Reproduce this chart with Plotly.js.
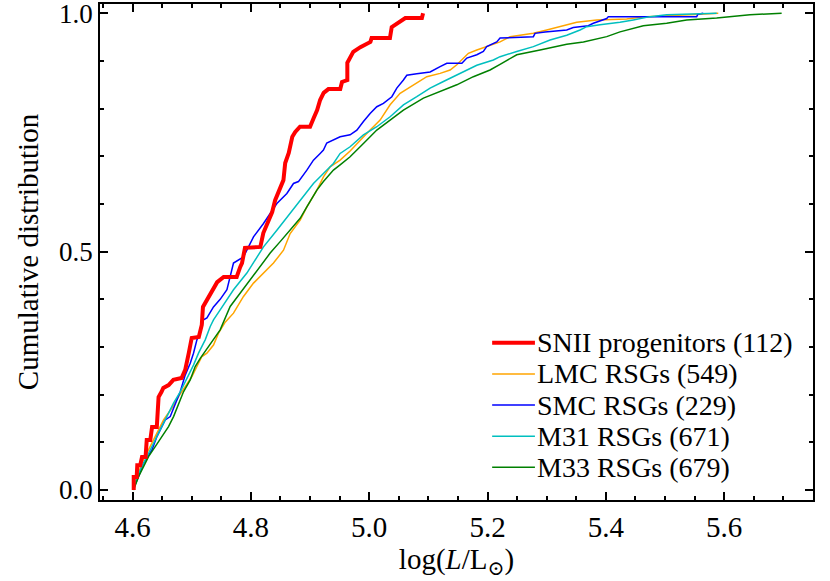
<!DOCTYPE html>
<html>
<head>
<meta charset="utf-8">
<script src="https://cdn.plot.ly/plotly-3.0.1.min.js"></script>
<style>html,body{margin:0;padding:0;background:#fff;}#chart{width:830px;height:581px;}</style>
</head>
<body>
<div id="chart"></div>
<script>
// ---- data ----
const seriesNames = ["SNII progenitors (112)", "LMC RSGs (549)", "SMC RSGs (229)", "M31 RSGs (671)", "M33 RSGs (679)"];

const snX = [4.602,4.602,4.607,4.608,4.613,4.616,4.622,4.624,4.630,4.633,4.641,4.644,4.649,4.652,4.661,4.669,4.683,4.689,4.695,4.700,4.712,4.717,4.719,4.726,4.734,4.743,4.754,4.776,4.782,4.785,4.790,4.816,4.821,4.830,4.836,4.841,4.847,4.855,4.858,4.864,4.870,4.875,4.883,4.900,4.906,4.912,4.917,4.923,4.931,4.951,4.954,4.963,4.963,4.968,4.973,4.985,5.002,5.004,5.035,5.038,5.049,5.055,5.061,5.089,5.091];
const snY = [0.000,0.027,0.027,0.052,0.052,0.069,0.069,0.105,0.105,0.132,0.132,0.195,0.206,0.214,0.220,0.231,0.235,0.252,0.287,0.319,0.321,0.346,0.384,0.399,0.420,0.436,0.447,0.447,0.468,0.476,0.508,0.510,0.539,0.566,0.583,0.608,0.625,0.650,0.686,0.707,0.741,0.751,0.762,0.762,0.780,0.797,0.818,0.833,0.841,0.841,0.856,0.860,0.896,0.906,0.919,0.929,0.940,0.948,0.948,0.971,0.980,0.984,0.990,0.990,1.000];

const lmcX = [4.6012,4.6046,4.6159,4.6299,4.6412,4.6524,4.6666,4.6777,4.6890,4.7003,4.7088,4.7172,4.7257,4.7368,4.7453,4.7566,4.7706,4.7875,4.8044,4.8213,4.8382,4.8551,4.8664,4.8833,4.8946,4.9115,4.9226,4.9339,4.9508,4.9677,4.9846,5.0015,5.0184,5.0353,5.0522,5.0747,5.0973,5.1198,5.1367,5.1480,5.1591,5.1676,5.1818,5.1985,5.2211,5.2380,5.2774,5.3000,5.3225,5.3507,5.3845,5.4351,5.4689,5.5139,5.5590,5.5899];
const lmcY = [0.000,0.015,0.057,0.091,0.120,0.147,0.172,0.196,0.217,0.238,0.259,0.280,0.287,0.304,0.329,0.352,0.371,0.406,0.434,0.455,0.476,0.503,0.538,0.566,0.594,0.629,0.657,0.678,0.692,0.711,0.734,0.755,0.776,0.808,0.832,0.850,0.867,0.874,0.881,0.892,0.906,0.916,0.923,0.930,0.940,0.951,0.958,0.965,0.972,0.981,0.986,0.988,0.993,0.995,0.998,1.000];

const smcX = [4.6017,4.6017,4.6101,4.6186,4.6328,4.6412,4.6468,4.6552,4.6637,4.6721,4.6806,4.6890,4.6975,4.7030,4.7088,4.7144,4.7199,4.7257,4.7368,4.7481,4.7595,4.7706,4.7875,4.8044,4.8213,4.8439,4.8608,4.8720,4.8804,4.8946,4.9057,4.9171,4.9226,4.9282,4.9395,4.9508,4.9677,4.9791,4.9902,5.0015,5.0128,5.0240,5.0382,5.0466,5.0578,5.0635,5.0804,5.1029,5.1198,5.1311,5.1566,5.1649,5.1818,5.1929,5.1985,5.2155,5.2211,5.2774,5.2802,5.2971,5.3338,5.3449,5.3703,5.3787,5.4014,5.4041,5.5534,5.5556,5.5645];
const smcY = [0.000,0.004,0.028,0.056,0.084,0.112,0.126,0.147,0.154,0.178,0.206,0.241,0.266,0.287,0.315,0.329,0.357,0.361,0.384,0.400,0.420,0.476,0.489,0.531,0.559,0.601,0.622,0.643,0.647,0.671,0.692,0.706,0.713,0.728,0.734,0.741,0.745,0.755,0.773,0.790,0.804,0.811,0.825,0.843,0.860,0.870,0.873,0.877,0.888,0.895,0.895,0.906,0.913,0.920,0.930,0.940,0.948,0.951,0.958,0.961,0.965,0.970,0.974,0.979,0.989,0.993,0.993,0.998,1.000];

const m31X = [4.6017,4.6017,4.6130,4.6270,4.6412,4.6552,4.6693,4.6806,4.6919,4.7030,4.7115,4.7228,4.7313,4.7368,4.7481,4.7706,4.7932,4.8213,4.8439,4.8664,4.8889,4.9057,4.9226,4.9395,4.9508,4.9677,4.9902,5.0128,5.0353,5.0578,5.0804,5.1029,5.1254,5.1536,5.1818,5.2098,5.2211,5.2493,5.2774,5.3056,5.3338,5.3563,5.3676,5.3900,5.4238,5.4463,5.4745,5.5027,5.5307,5.5872];
const m31Y = [0.000,0.007,0.042,0.077,0.112,0.147,0.182,0.206,0.234,0.262,0.287,0.315,0.343,0.357,0.378,0.420,0.455,0.510,0.545,0.580,0.615,0.643,0.664,0.685,0.706,0.720,0.745,0.762,0.783,0.808,0.825,0.843,0.857,0.874,0.891,0.902,0.909,0.920,0.930,0.944,0.954,0.965,0.972,0.976,0.981,0.986,0.993,0.997,0.998,1.000];

const m33X = [4.6017,4.6101,4.6186,4.6270,4.6383,4.6497,4.6608,4.6693,4.6777,4.6861,4.6975,4.7059,4.7144,4.7257,4.7368,4.7481,4.7650,4.7819,4.7988,4.8157,4.8326,4.8495,4.8664,4.8833,4.8946,4.9115,4.9226,4.9395,4.9508,4.9677,4.9902,5.0128,5.0353,5.0578,5.0916,5.1198,5.1480,5.1760,5.2042,5.2211,5.2493,5.2887,5.3338,5.3620,5.4014,5.4238,5.4632,5.5027,5.5365,5.5872,5.6434,5.6970];
const m33Y = [0.000,0.028,0.049,0.070,0.091,0.112,0.133,0.154,0.182,0.206,0.231,0.259,0.276,0.297,0.315,0.336,0.385,0.413,0.441,0.469,0.497,0.521,0.545,0.570,0.594,0.629,0.647,0.671,0.682,0.699,0.727,0.755,0.776,0.797,0.822,0.836,0.850,0.867,0.881,0.893,0.913,0.923,0.935,0.940,0.951,0.961,0.974,0.979,0.986,0.990,0.997,1.000];

// ---- drawing ----
const FONT = "'Liberation Serif', 'DejaVu Serif', serif";
const colors = ['#ff0000', '#ffa500', '#0000ff', '#00bfbf', '#008000'];
const widths = [4, 1.5, 1.5, 1.5, 1.5];
const xs = [snX, lmcX, smcX, m31X, m33X];
const ys = [snY, lmcY, smcY, m31Y, m33Y];

const traces = [];
[1, 2, 3, 4, 0].forEach(function (i) {
  traces.push({x: xs[i], y: ys[i], name: seriesNames[i], type: 'scatter', mode: 'lines',
               showlegend: false, line: {color: colors[i], width: widths[i]}});
});

const XR = [4.545, 5.75], YR = [-0.021, 1.0195];
const shapes = [], annotations = [];

// legend drawn as text + sample lines (rows spaced like the reference)
const legendTop = 0.317, legendStep = 0.0628;
seriesNames.forEach(function (name, i) {
  const yy = legendTop - i * legendStep;
  annotations.push({xref: 'paper', yref: 'paper', x: 0.61, y: yy, xanchor: 'left', yanchor: 'middle',
                    text: name, showarrow: false, font: {family: FONT, size: 28, color: '#000'}});
  shapes.push({type: 'line', xref: 'paper', yref: 'paper', x0: 0.55, x1: 0.61, y0: yy, y1: yy,
               line: {color: colors[i], width: widths[i]}});
});

const layout = {
  width: 830, height: 581,
  margin: {l: 100, r: 17, t: 4, b: 81},
  paper_bgcolor: '#fff', plot_bgcolor: '#fff',
  font: {family: FONT, size: 29, color: '#000'},
  showlegend: false,
  annotations: annotations, shapes: shapes,
  xaxis: {
    range: XR, tick0: 4.6, dtick: 0.2, tickformat: '.1f',
    ticks: 'inside', ticklen: 8, tickwidth: 2, tickcolor: '#000',
    minor: {dtick: 0.05, ticks: 'inside', ticklen: 4.5, tickwidth: 1.5, tickcolor: '#000', showgrid: false},
    showline: true, linecolor: '#000', linewidth: 1.8, mirror: 'allticks',
    showgrid: false, zeroline: false,
    tickfont: {family: FONT, size: 29, color: '#000'},
    title: {text: 'log(<i>L</i>/L<sub>⊙</sub>)', font: {family: FONT, size: 29, color: '#000'}, standoff: 6}
  },
  yaxis: {
    range: YR, tick0: 0, dtick: 0.5, tickformat: '.1f',
    ticks: 'inside', ticklen: 8, tickwidth: 2, tickcolor: '#000',
    minor: {dtick: 0.1, ticks: 'inside', ticklen: 4.5, tickwidth: 1.5, tickcolor: '#000', showgrid: false},
    showline: true, linecolor: '#000', linewidth: 1.8, mirror: 'allticks',
    showgrid: false, zeroline: false, ticklabeloverflow: 'allow',
    tickfont: {family: FONT, size: 27, color: '#000'},
    title: {text: 'Cumulative distribution', font: {family: FONT, size: 29, color: '#000'}, standoff: 12}
  }
};
Plotly.newPlot('chart', traces, layout, {displayModeBar: false});
</script>
</body>
</html>
